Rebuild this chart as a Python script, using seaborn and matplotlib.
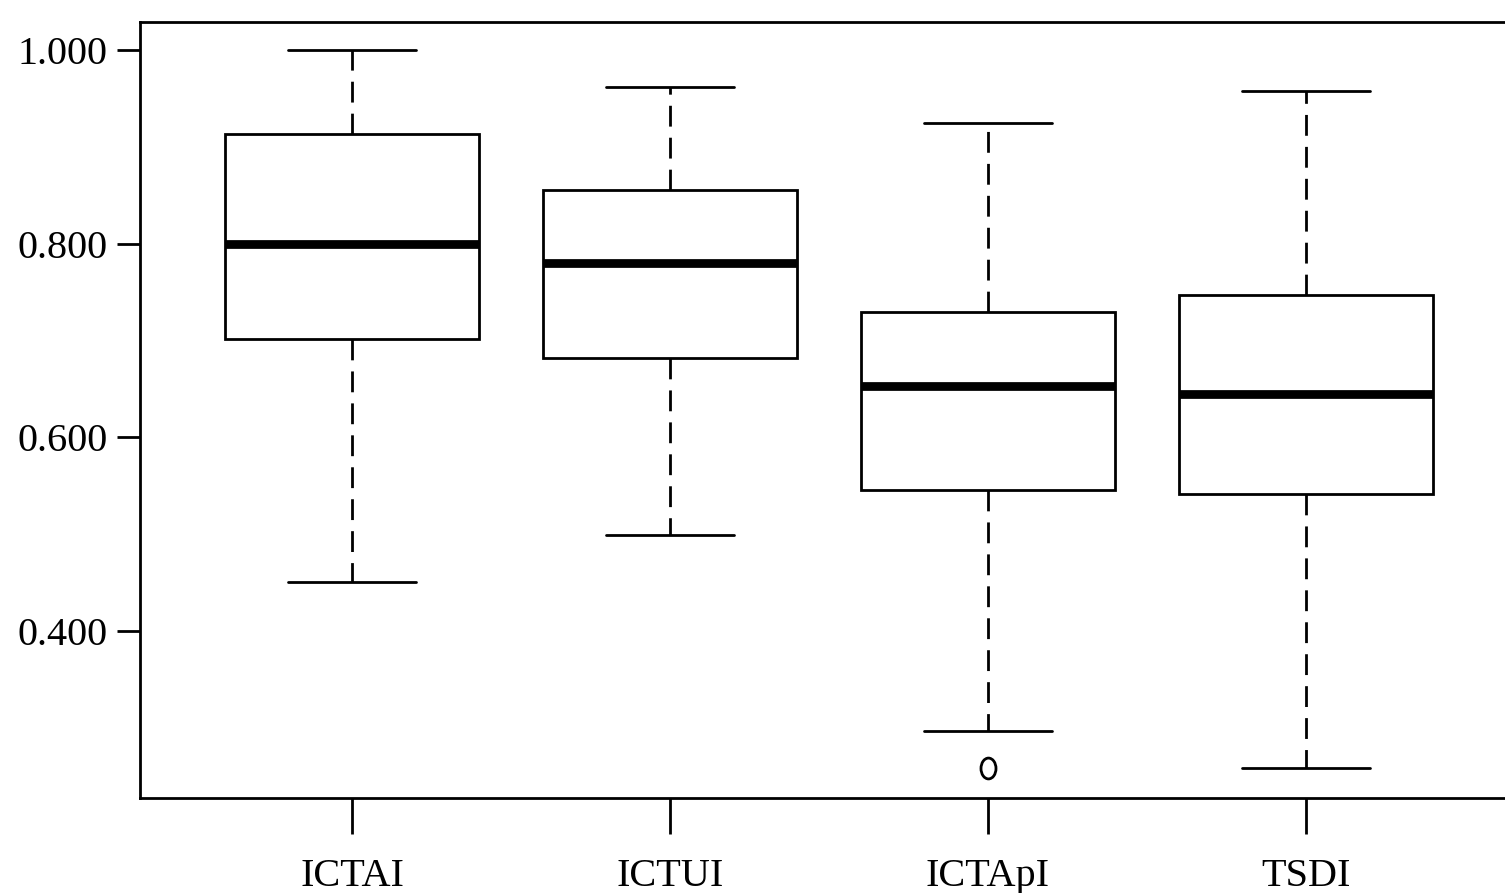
import numpy as np
import pandas as pd
import matplotlib
matplotlib.use("Agg")
import matplotlib.pyplot as plt
from matplotlib.path import Path
from matplotlib.transforms import Affine2D
import seaborn as sns

# Box-plot summaries (quartile-aligned sample values)
categories = ["ICTAI", "ICTUI", "ICTApI", "TSDI"]
ictai = [0.451, 0.702, 0.800, 0.913, 1.000]
ictui = [0.499, 0.682, 0.780, 0.855, 0.962]
ictapi = [0.259, 0.297, 0.546, 0.546, 0.653, 0.730, 0.730, 0.925, 0.925]
tsdi = [0.259, 0.542, 0.645, 0.747, 0.958]
yticks = [0.400, 0.600, 0.800, 1.000]

df = pd.DataFrame({
    "group": (["ICTAI"] * len(ictai) + ["ICTUI"] * len(ictui)
              + ["ICTApI"] * len(ictapi) + ["TSDI"] * len(tsdi)),
    "value": ictai + ictui + ictapi + tsdi,
})

sns.set_style("ticks")
plt.rcParams["font.family"] = ["Liberation Serif", "DejaVu Serif"]

fig = plt.figure(figsize=(15.05, 8.93), dpi=100)
ax = fig.add_axes([140 / 1505, 95 / 893, 1378 / 1505, 776 / 893])

lw = 2.0
ellipse = Path.unit_circle().transformed(Affine2D().scale(0.72, 1.0))

sns.boxplot(
    data=df, x="group", y="value", order=categories, ax=ax,
    width=0.8, color="white", linecolor="black", linewidth=lw,
    whis=1.5,
    boxprops=dict(facecolor="white", edgecolor="black", linewidth=lw),
    medianprops=dict(color="black", linewidth=6.3, solid_capstyle="butt"),
    whiskerprops=dict(color="black", linewidth=lw, linestyle=(0, (7.5, 4.0))),
    capprops=dict(color="black", linewidth=lw),
    flierprops=dict(marker=ellipse, markersize=15, markerfacecolor="none",
                    markeredgecolor="black", markeredgewidth=lw),
)

ax.set_xlim(-0.667, 3.667)
ax.set_ylim(0.2276, 1.029)
ax.set_yticks(yticks)
ax.set_yticklabels([f"{v:.3f}" for v in yticks])
ax.set_xlabel("")
ax.set_ylabel("")

for s in ax.spines.values():
    s.set_linewidth(lw)
    s.set_color("black")

ax.tick_params(axis="y", direction="out", length=16.5, width=lw, pad=7,
               labelsize=29, colors="black")
ax.tick_params(axis="x", direction="out", length=26, width=lw, pad=17,
               labelsize=29, colors="black")

fig.savefig("out.png", dpi=100, facecolor="white")
